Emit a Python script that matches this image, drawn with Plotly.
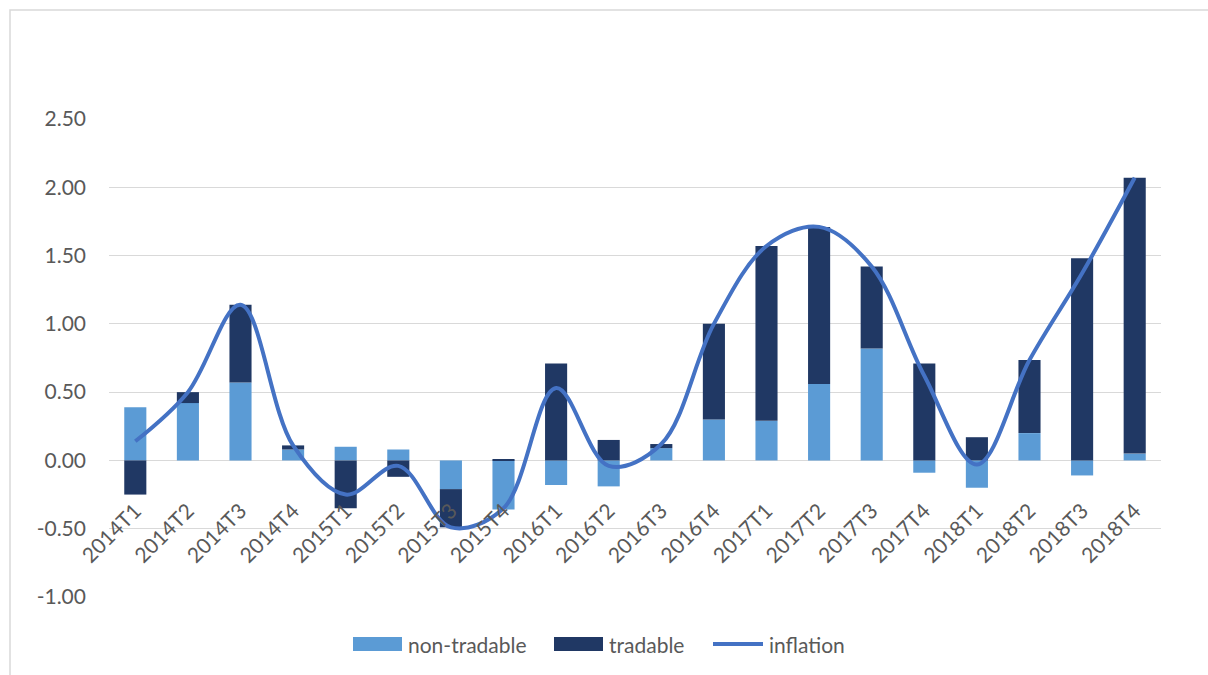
import plotly.graph_objects as go

quarters = ["2014T1", "2014T2", "2014T3", "2014T4",
            "2015T1", "2015T2", "2015T3", "2015T4",
            "2016T1", "2016T2", "2016T3", "2016T4",
            "2017T1", "2017T2", "2017T3", "2017T4",
            "2018T1", "2018T2", "2018T3", "2018T4"]

non_tradable = [0.39, 0.42, 0.57, 0.08, 0.10, 0.08, -0.21, -0.36, -0.18, -0.19,
                0.09, 0.30, 0.29, 0.56, 0.82, -0.09, -0.20, 0.20, -0.11, 0.05]
tradable = [-0.25, 0.08, 0.57, 0.03, -0.35, -0.12, -0.28, 0.01, 0.71, 0.15,
            0.03, 0.70, 1.28, 1.15, 0.60, 0.71, 0.17, 0.535, 1.48, 2.02]
inflation = [0.14, 0.50, 1.14, 0.11, -0.25, -0.04, -0.49, -0.35, 0.53, -0.04,
             0.12, 1.00, 1.57, 1.71, 1.42, 0.62, -0.03, 0.735, 1.37, 2.07]

y_ticks = [-1.0, -0.5, 0.0, 0.5, 1.0, 1.5, 2.0, 2.5]
y_labels = ["-1.00", "-0.50", "0.00", "0.50", "1.00", "1.50", "2.00", "2.50"]

LIGHT = "#5B9BD5"
DARK = "#203864"
LINE = "#4472C4"
GRID = "#D9D9D9"
TEXT = "#595959"
FONT = "Lato"

# plot area in pixels (window is 1208 x 675)
L, R, T, B = 109, 47, 119, 78
W = 1208 - L - R
H = 675 - T - B


def px(x):
    return (x - L) / W


def py(y):
    return 1 - (y - T) / H


fig = go.Figure()
fig.add_trace(go.Bar(x=quarters, y=non_tradable, name="non-tradable",
                     marker=dict(color=LIGHT, line=dict(width=0))))
fig.add_trace(go.Bar(x=quarters, y=tradable, name="tradable",
                     marker=dict(color=DARK, line=dict(width=0))))
fig.add_trace(go.Scatter(x=quarters, y=inflation, name="inflation", mode="lines",
                         line=dict(color=LINE, width=4, shape="spline", smoothing=1)))

ymin, ymax = -1.0, 2.5

fig.update_layout(
    width=1208, height=675,
    margin=dict(l=L, r=R, t=T, b=B),
    paper_bgcolor="white", plot_bgcolor="white",
    barmode="relative", bargap=0.58,
    showlegend=False,
    font=dict(family=FONT, size=21, color=TEXT),
    xaxis=dict(anchor="free", position=(0 - ymin) / (ymax - ymin),
               tickangle=-45, showgrid=False, showline=False, ticks="",
               ticklabelstandoff=33,
               automargin=False, tickfont=dict(size=21, color=TEXT)),
    yaxis=dict(range=[ymin, ymax], tickvals=y_ticks, ticktext=y_labels,
               showgrid=True, gridcolor=GRID, gridwidth=1.3,
               zeroline=True, zerolinecolor=GRID, zerolinewidth=1.3,
               showline=False, ticks="", ticklabelstandoff=22,
               automargin=False, tickfont=dict(size=21, color=TEXT)),
)

# chart border
fig.add_shape(type="rect", xref="paper", yref="paper",
              x0=px(10), y0=py(700), x1=px(1230), y1=py(10),
              line=dict(color=GRID, width=1.5), fillcolor="rgba(0,0,0,0)", layer="below")

# legend drawn by hand to get Excel-style wide swatches
ly = 644
fig.add_shape(type="rect", xref="paper", yref="paper",
              x0=px(353), x1=px(402), y0=py(651), y1=py(637),
              fillcolor=LIGHT, line=dict(width=0))
fig.add_shape(type="rect", xref="paper", yref="paper",
              x0=px(554), x1=px(603), y0=py(651), y1=py(637),
              fillcolor=DARK, line=dict(width=0))
fig.add_shape(type="line", xref="paper", yref="paper",
              x0=px(713), x1=px(763), y0=py(ly), y1=py(ly),
              line=dict(color=LINE, width=4))
for label, xpos in [("non-tradable", 406), ("tradable", 607), ("inflation", 767)]:
    fig.add_annotation(text=label, xref="paper", yref="paper",
                       x=px(xpos), y=py(ly), xanchor="left", yanchor="middle",
                       showarrow=False, font=dict(family=FONT, size=21, color=TEXT))

fig.write_html("out.html", config={"displayModeBar": False},
               post_script="document.body.style.margin='0';document.body.style.overflow='hidden';")
